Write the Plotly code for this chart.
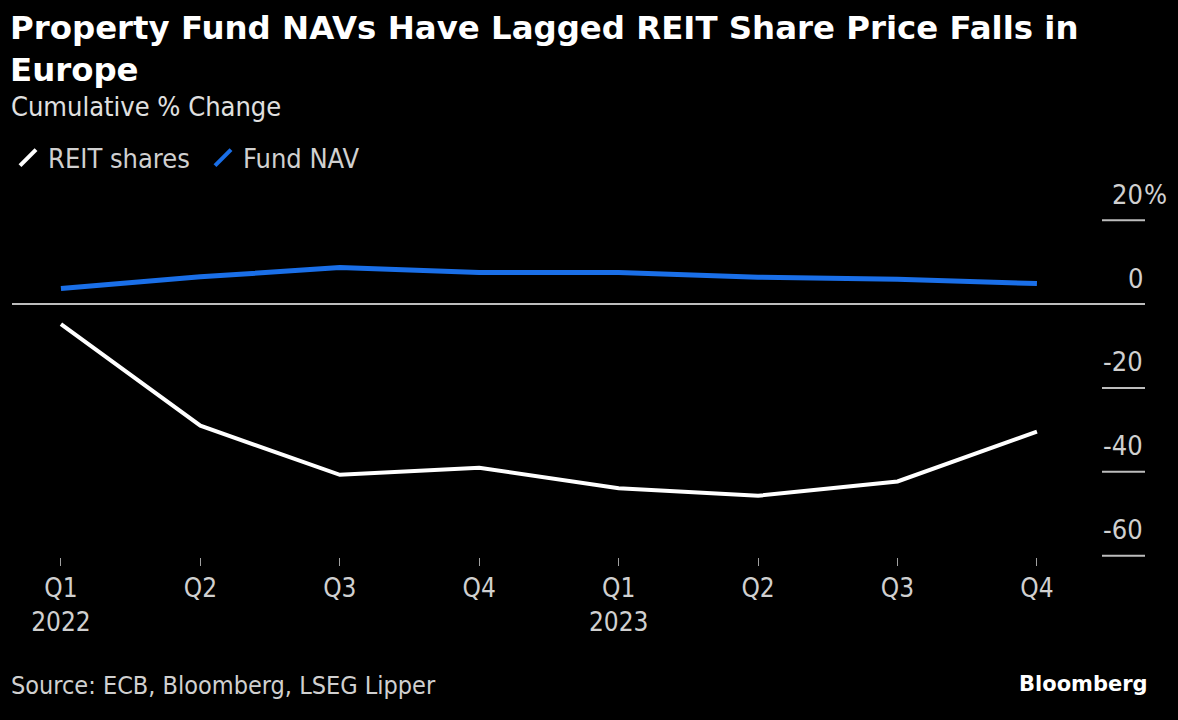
import plotly.graph_objects as go

# ---- data ----
quarters = ["2022Q1", "2022Q2", "2022Q3", "2022Q4", "2023Q1", "2023Q2", "2023Q3", "2023Q4"]
quarter_labels = ["Q1<br>2022", "Q2", "Q3", "Q4", "Q1<br>2023", "Q2", "Q3", "Q4"]
reit_shares = [-4.8, -29.0, -40.7, -39.0, -43.9, -45.7, -42.3, -30.4]
fund_nav = [3.7, 6.5, 8.7, 7.5, 7.5, 6.4, 5.9, 4.9]
y_ticks = [20, 0, -20, -40, -60]
y_tick_labels = ["20", "0", "-20", "-40", "-60"]

# ---- layout geometry (pixels) ----
W, H = 1178, 720
L, R = 12, 1145
T, B = 215.8, 557.3

def px(x):
    return (x - L) / (R - L)

def py(y):
    return (B - y) / (B - T)

WHITE = "#ffffff"
BLUE = "#1a6fe8"
TXT = "#d0d0d0"
COND = "DejaVu Sans Condensed, DejaVu Sans, sans-serif"

fig = go.Figure()
fig.add_trace(go.Scatter(x=quarters, y=fund_nav, mode="lines", name="Fund NAV",
                         line=dict(color=BLUE, width=5), showlegend=False))
fig.add_trace(go.Scatter(x=quarters, y=reit_shares, mode="lines", name="REIT shares",
                         line=dict(color=WHITE, width=4), showlegend=False))
# legend entries with slash symbols
fig.add_trace(go.Scatter(x=[None], y=[None], mode="markers", name="REIT shares",
                         marker=dict(symbol="line-ne", size=16, line=dict(color=WHITE, width=4))))
fig.add_trace(go.Scatter(x=[None], y=[None], mode="markers", name="Fund NAV",
                         marker=dict(symbol="line-ne", size=16, line=dict(color=BLUE, width=4))))

shapes = []
annotations = []
for v, lab in zip(y_ticks, y_tick_labels):
    if v != 0:
        shapes.append(dict(type="line", xref="paper", yref="y", x0=px(1102), x1=1, y0=v, y1=v,
                           line=dict(color="#bdbdbd", width=2)))
    annotations.append(dict(xref="paper", yref="y", x=1, y=v, text=lab, showarrow=False,
                            xanchor="right", yanchor="middle", yshift=26,
                            font=dict(family=COND, size=27, color=TXT)))
    if v == max(y_ticks):
        annotations.append(dict(xref="paper", yref="y", x=1, y=v, text="%", showarrow=False,
                                xanchor="left", yanchor="middle", yshift=26, xshift=-3,
                                font=dict(family=COND, size=27, color=TXT)))

annotations += [
    dict(xref="paper", yref="paper", x=px(8), y=py(6), xanchor="left", yanchor="top", align="left",
         text="<b>Property Fund NAVs Have Lagged REIT Share Price Falls in<br>Europe</b>",
         showarrow=False, font=dict(family="DejaVu Sans, sans-serif", size=32.4, color=WHITE)),
    dict(xref="paper", yref="paper", x=px(9), y=py(106), xanchor="left", yanchor="middle",
         text="Cumulative % Change", showarrow=False, font=dict(family=COND, size=27, color="#e0e0e0")),
    dict(xref="paper", yref="paper", x=px(9), y=py(686), xanchor="left", yanchor="middle",
         text="Source: ECB, Bloomberg, LSEG Lipper", showarrow=False,
         font=dict(family=COND, size=25, color=TXT)),
    dict(xref="paper", yref="paper", x=px(1150), y=py(684), xanchor="right", yanchor="middle",
         text="<b>Bloomberg</b>", showarrow=False,
         font=dict(family="DejaVu Sans, sans-serif", size=21, color=WHITE)),
]

fig.update_layout(
    width=W, height=H,
    paper_bgcolor="#000000", plot_bgcolor="#000000",
    margin=dict(l=L, r=W - R, t=T, b=H - B),
    showlegend=True,
    legend=dict(orientation="h", xref="container", yref="container", x=8 / W, y=1 - 158 / H,
                xanchor="left", yanchor="middle", font=dict(family=COND, size=27, color=TXT),
                bgcolor="rgba(0,0,0,0)", itemwidth=30, entrywidth=150, entrywidthmode="pixels"),
    xaxis=dict(type="category", categoryorder="array", categoryarray=quarters,
               range=[-0.351, 7.775], tickvals=quarters, ticktext=quarter_labels,
               showgrid=False, zeroline=False, showline=False,
               ticks="outside", ticklen=8, tickwidth=1, tickcolor="#a0a0a0",
               tickfont=dict(family=COND, size=26, color=TXT), fixedrange=True),
    yaxis=dict(range=[-60.3, 21], showgrid=False, showticklabels=False, ticks="",
               zeroline=True, zerolinecolor="#bdbdbd", zerolinewidth=2, fixedrange=True),
    shapes=shapes,
    annotations=annotations,
)

fig.write_html("out.html", config={"displayModeBar": False},
               post_script="document.body.style.margin='0';document.body.style.background='#000';")
